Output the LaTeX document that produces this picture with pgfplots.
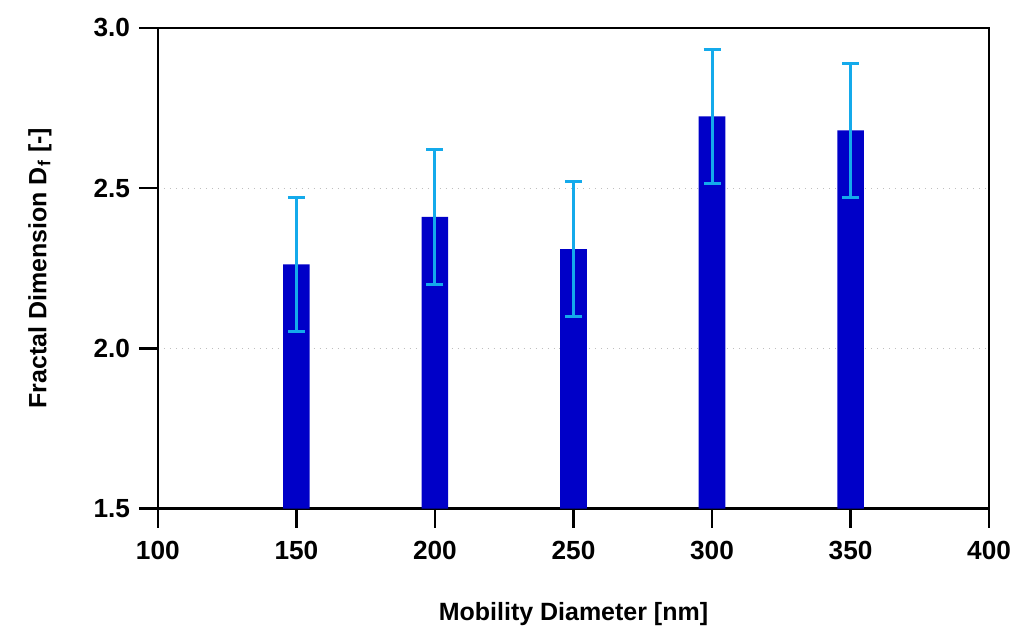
\documentclass[border=0pt]{standalone}
\usepackage{pgfplots}
\pgfplotsset{compat=1.18}
\usetikzlibrary{calc}
\usepackage{fontspec}
\setmainfont{Liberation Sans}
\definecolor{barblue}{RGB}{0,0,200}
\definecolor{errblue}{RGB}{20,170,235}
\begin{document}
\begin{tikzpicture}
\begin{axis}[
  name=ax,
  scale only axis,
  width=332.8pt, height=192.4pt,
  xmin=100, xmax=400, ymin=1.5, ymax=3.0,
  xtick={100,150,...,400},
  ytick={1.5,2.0,2.5,3.0},
  yticklabel style={/pgf/number format/.cd,fixed,fixed zerofill,precision=1},
  /pgf/number format/assume math mode=true,
  tick label style={font=\fontsize{10.5}{12}\selectfont\bfseries},
  xticklabel style={inner xsep=0pt, yshift=-2pt},
  label style={font=\fontsize{10}{12}\selectfont\bfseries},
  xlabel={Mobility Diameter [nm]},
  ylabel={Fractal Dimension D\textsubscript{f} [-]},
  xlabel style={yshift=-10pt},
  ylabel style={yshift=10pt},
  axis line style={line width=1pt},
  tick style={black, line width=1pt},
  tick align=outside,
  major tick length=7.6pt,
  tick pos=left,
  ymajorgrids,
  grid style={gray!50, dotted, line width=0.5pt},
]
\addplot[ybar, bar width=9.6, fill=barblue, draw=none,
  error bars/.cd, y dir=both, y explicit,
  error bar style={color=errblue, line width=1.2pt},
  error mark options={rotate=90, mark size=3.4pt, color=errblue, line width=1.2pt}]
coordinates {
  (150,2.262) +- (0,0.21)
  (200,2.410) +- (0,0.21)
  (250,2.310) +- (0,0.21)
  (300,2.724) +- (0,0.21)
  (350,2.680) +- (0,0.21)
};
\end{axis}
% outward tick marks along the bottom and left axis lines
\foreach \k in {0,...,6}
  \draw[line width=1pt] (ax.south west) ++(\k*55.4667pt,0) -- ++(0,-7.6pt);
\foreach \k in {0,...,3}
  \draw[line width=1pt] (ax.south west) ++(0,\k*64.1333pt) -- ++(-7.6pt,0);
\path (ax.south west) ++(-63.2pt,-44.4pt);
\path (ax.north east) ++(8.4pt,11.2pt);
\end{tikzpicture}
\end{document}
